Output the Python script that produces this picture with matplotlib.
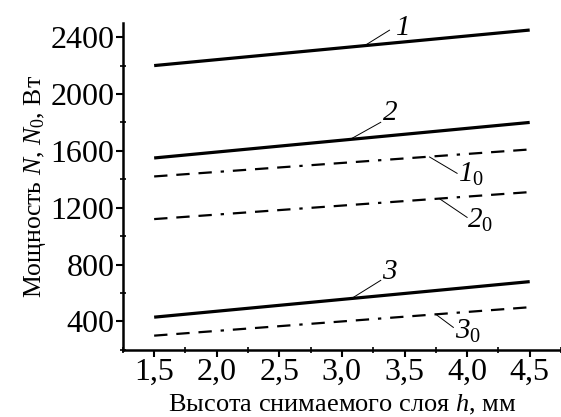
import matplotlib
matplotlib.use('Agg')
import matplotlib.pyplot as plt
from matplotlib.ticker import MultipleLocator

plt.rcParams['font.family'] = ['Liberation Serif', 'DejaVu Serif']
plt.rcParams['mathtext.fontset'] = 'custom'
plt.rcParams['mathtext.rm'] = 'Liberation Serif'
plt.rcParams['mathtext.it'] = 'Liberation Serif:style=italic'
# italic digits for curve numbers (mathtext keeps digits upright in \mathit)
plt.rcParams['mathtext.cal'] = 'Liberation Serif:style=italic'

# height of removed layer h, mm
h = [1.5, 3.0, 4.5]

# power N (solid) and N0 (dashed), W
n1 = [2200, 2325, 2450]
n2 = [1550, 1675, 1800]
n3 = [430, 555, 680]
n1_0 = [1420, 1515, 1610]
n2_0 = [1120, 1215, 1310]
n3_0 = [300, 400, 500]

x_ticks = [1.5, 2.0, 2.5, 3.0, 3.5, 4.0, 4.5]
x_tick_labels = ['1,5', '2,0', '2,5', '3,0', '3,5', '4,0', '4,5']
y_ticks = [400, 800, 1200, 1600, 2000, 2400]

fig = plt.figure(figsize=(5.61, 4.17), dpi=100)
ax = fig.add_axes([0.219, 0.161, 0.781, 0.784])

dash = (0, (6, 4, 6, 4, 6, 4, 1.5, 4))
for y in (n1, n2, n3):
    ax.plot(h, y, color='black', lw=2.3, solid_capstyle='butt')
for y in (n1_0, n2_0, n3_0):
    ax.plot(h, y, color='black', lw=1.6, linestyle=dash)

# curve labels: leader from (x0, y0) to (x1, y1), text at (xt, yt)
labels = [
    (r'$\mathcal{1}$', 3.19, 2345, 3.38, 2449, 3.42, 2463),
    (r'$\mathcal{2}$', 3.08, 1688, 3.31, 1801, 3.32, 1865),
    (r'$\mathcal{1}_{\mathrm{0}}$', 3.70, 1557, 3.92, 1442, 3.93, 1435),
    (r'$\mathcal{2}_{\mathrm{0}}$', 3.78, 1263, 4.0, 1132, 4.0, 1111),
    (r'$\mathcal{3}$', 3.08, 563, 3.31, 689, 3.32, 745),
    (r'$\mathcal{3}_{\mathrm{0}}$', 3.75, 450, 3.89, 358, 3.9, 330),
]
for txt, x0, y0, x1, y1, xt, yt in labels:
    ax.plot([x0, x1], [y0, y1], color='black', lw=0.7)
    ax.text(xt, yt, txt, fontsize=21, ha='left', va='center')

ax.set_xlim(1.25, 4.75)
ax.set_ylim(200, 2500)
ax.set_xticks(x_ticks)
ax.set_xticklabels(x_tick_labels)
ax.set_yticks(y_ticks)
ax.xaxis.set_minor_locator(MultipleLocator(0.25))
ax.yaxis.set_minor_locator(MultipleLocator(200))

ax.spines['top'].set_visible(False)
ax.spines['right'].set_visible(False)
ax.spines['left'].set_linewidth(1.8)
ax.spines['bottom'].set_linewidth(1.8)
ax.tick_params(which='major', direction='out', length=5, width=1.5,
               labelsize=23, pad=1)
ax.tick_params(which='minor', direction='inout', length=4, width=1.2)

ax.set_xlabel(r'Высота снимаемого слоя $h$, мм', fontsize=19, labelpad=4)
ax.set_ylabel(r'Мощность $N$, $N_0$, Вт', fontsize=18.5, labelpad=2)

fig.savefig('out.png', dpi=100)
